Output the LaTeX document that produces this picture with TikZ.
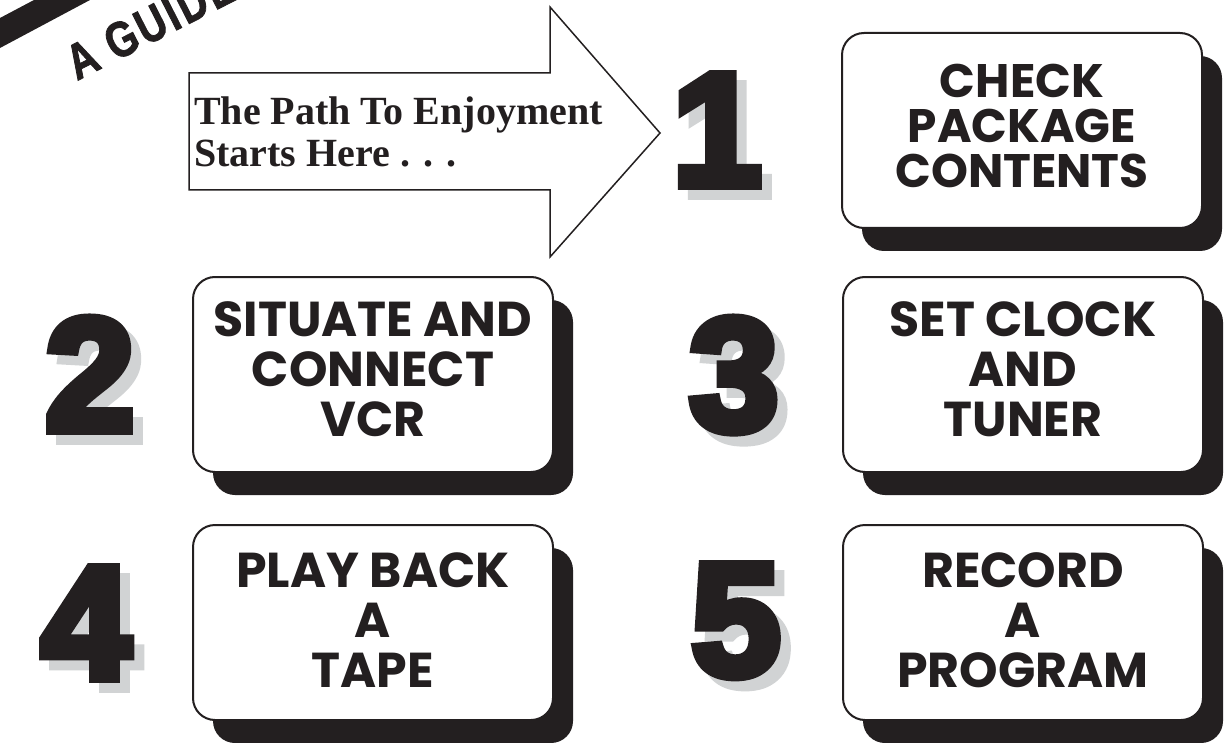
\documentclass[tikz,border=0pt]{standalone}
\usepackage{fontspec}
\usetikzlibrary{shadows}
\newfontfamily\boxfont{Poppins}[UprightFont={* Bold}]
\newfontfamily\numfont{Liberation Sans}[UprightFont={* Bold},FakeBold=6]
\newfontfamily\guidefont{Liberation Sans}[UprightFont={* Bold},FakeStretch=0.8,FakeBold=1.5,LetterSpace=6]
\newfontfamily\arrowfont{Liberation Serif}[UprightFont={* Bold}]
\definecolor{ink}{RGB}{35,31,32}
\definecolor{shade}{RGB}{209,211,212}
\tikzset{
  stepbox/.style={draw=ink, line width=2pt, fill=white, rounded corners=22pt,
    minimum width=360pt, minimum height=195pt, align=center, text=ink, inner sep=0pt,
    font=\boxfont\fontsize{49}{50}\selectfont,
    drop shadow={shadow xshift=20pt, shadow yshift=-23pt, fill=ink, opacity=1, draw=none}},
  numshade/.style={text=shade, inner sep=0pt, anchor=base,
    font=\numfont\fontsize{160}{160}\selectfont},
  numblack/.style={numshade, text=ink},
}
\begin{document}
\begin{tikzpicture}[x=1pt,y=-1pt]
\useasboundingbox (0,0) rectangle (1225,743);
\clip (0,0) rectangle (1225,743);
\fill[white] (0,0) rectangle (1225,743);
% corner band and title
\fill[ink] (0,18) -- (34,0) -- (90,0) -- (0,48) -- cycle;
\node[rotate=27, anchor=base west, inner sep=0pt, text=ink,
  font=\guidefont\fontsize{50}{50}\selectfont] (guide) at (77,81) {A GUIDE};
% big arrow
\draw[ink, line width=1.5pt, fill=white, line join=miter]
  (189,73) -- (550,73) -- (550,7) -- (660,133) -- (550,257) -- (550,190) -- (189,190) -- cycle;
\node[anchor=north west, align=left, inner sep=0pt, text=ink,
  font=\arrowfont\fontsize{40}{42}\selectfont] (start) at (194,97)
  {The Path To Enjoyment\\Starts Here . . .};
% numbers
\node[numshade] (n1s) at (727,195) {1};
\node[numblack] (n1) at (717,185) {1};
\node[numshade] (n2s) at (100,440) {2};
\node[numblack] (n2) at (90,430) {2};
\node[numshade] (n3s) at (744,440) {3};
\node[numblack] (n3) at (734,430) {3};
\node[numshade] (n4s) at (96,688) {4};
\node[numblack] (n4) at (86,678) {4};
\node[numshade] (n5s) at (746,685) {5};
\node[numblack] (n5) at (736,675) {5};
% step boxes
\node[stepbox, font=\boxfont\fontsize{47}{45}\selectfont, text depth=10pt] (b1) at (1022,130.5) {CHECK\\PACKAGE\\CONTENTS};
\node[stepbox, text depth=10pt] (b2) at (373,374.5) {SITUATE AND\\CONNECT\\VCR};
\node[stepbox, text depth=10pt] (b3) at (1023,374.5) {SET CLOCK\\AND\\TUNER};
\node[stepbox, text depth=4pt] (b4) at (373,622.5) {PLAY BACK\\A\\TAPE};
\node[stepbox, text depth=4pt] (b5) at (1023,622.5) {RECORD\\A\\PROGRAM};
\end{tikzpicture}
\end{document}
